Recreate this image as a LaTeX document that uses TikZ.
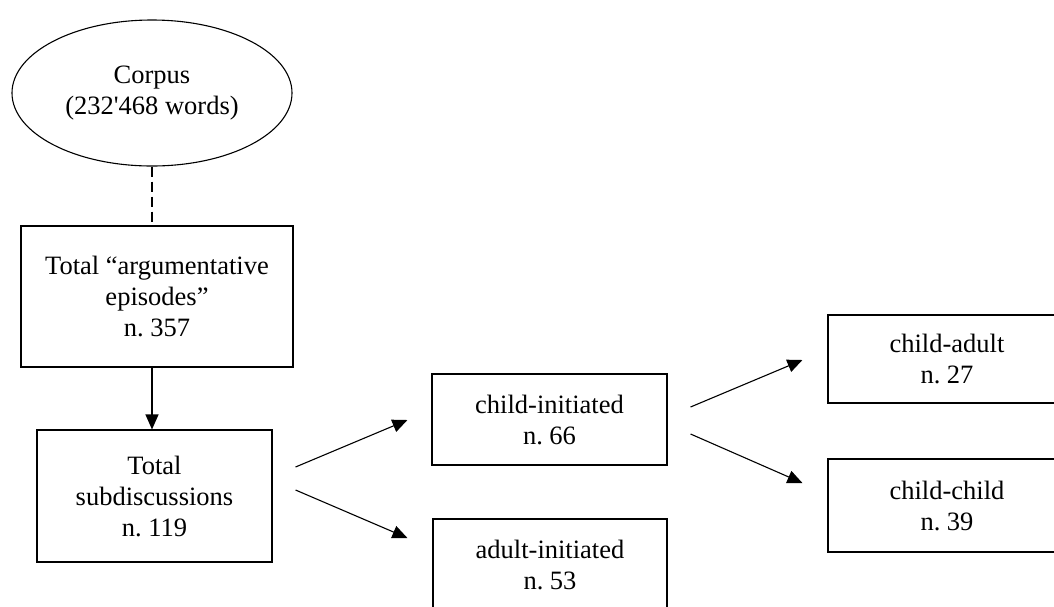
\documentclass[tikz,border=0pt]{standalone}
\usepackage{fontspec}
\setmainfont{Liberation Serif}[Ligatures=TeXOff]
\usetikzlibrary{arrows.meta,shapes.geometric,calc}
\begin{document}
\frenchspacing
\begin{tikzpicture}[x=1pt,y=-1pt,
  every node/.style={font=\fontsize{26.5}{31}\selectfont, align=center, inner sep=0pt},
  box/.style={draw, line width=1.1pt, rectangle},
  link/.style={line width=1.1pt, -{Triangle[length=15pt,width=13pt]}},
  ]
% page area (boxes at the right and bottom run past it)
\clip (0,0) rectangle (1054,606);

% source corpus
\node[draw, ellipse, line width=1.1pt, minimum width=280pt, minimum height=146pt]
  (corpus) at (152,93) {Corpus\\(232'468 words)};

% first level: all episodes and their sub-discussions
\node[box, minimum width=272pt, minimum height=141pt] (ep) at (157,296.5)
  {Total “argumentative\\episodes”\\n. 357};
\node[box, minimum width=235pt, minimum height=132pt] (sub) at (154.5,496)
  {Total\\subdiscussions\\n. 119};

% who starts the sub-discussion
\node[box, minimum width=235pt, minimum height=91pt] (ci) at (549.5,419.5)
  {child-initiated\\n. 66};
\node[box, minimum width=234pt, minimum height=91pt] (ai) at (550,564.5)
  {adult-initiated\\n. 53};

% participants of child-initiated sub-discussions
\node[box, minimum width=238pt, minimum height=88pt] (ca) at (947,359)
  {child-adult\\n. 27};
\node[box, minimum width=238pt, minimum height=93pt] (cc) at (947,505.5)
  {child-child\\n. 39};

% connectors
\coordinate (axis) at (152,0);
\draw[line width=2pt, dash pattern=on 10pt off 5pt]
  (corpus.south) -- (ep.north -| corpus.south);
\draw[link] (ep.south -| axis) -- (sub.north -| axis);

\coordinate (s1) at ($(sub.east)+(23,-29)$);
\coordinate (t1) at ($(ci.west)+(-24,0.5)$);
\coordinate (s2) at ($(sub.east)+(23,-6)$);
\coordinate (t2) at ($(ai.west)+(-25,-26.5)$);
\draw[link] (s1) -- (t1);
\draw[link] (s2) -- (t2);

\coordinate (s3) at ($(ci.east)+(23,-12.5)$);
\coordinate (t3) at ($(ca.west)+(-25,1)$);
\coordinate (s4) at ($(ci.east)+(23,14.5)$);
\coordinate (t4) at ($(cc.west)+(-25,-22.5)$);
\draw[link] (s3) -- (t3);
\draw[link] (s4) -- (t4);
\end{tikzpicture}
\end{document}
